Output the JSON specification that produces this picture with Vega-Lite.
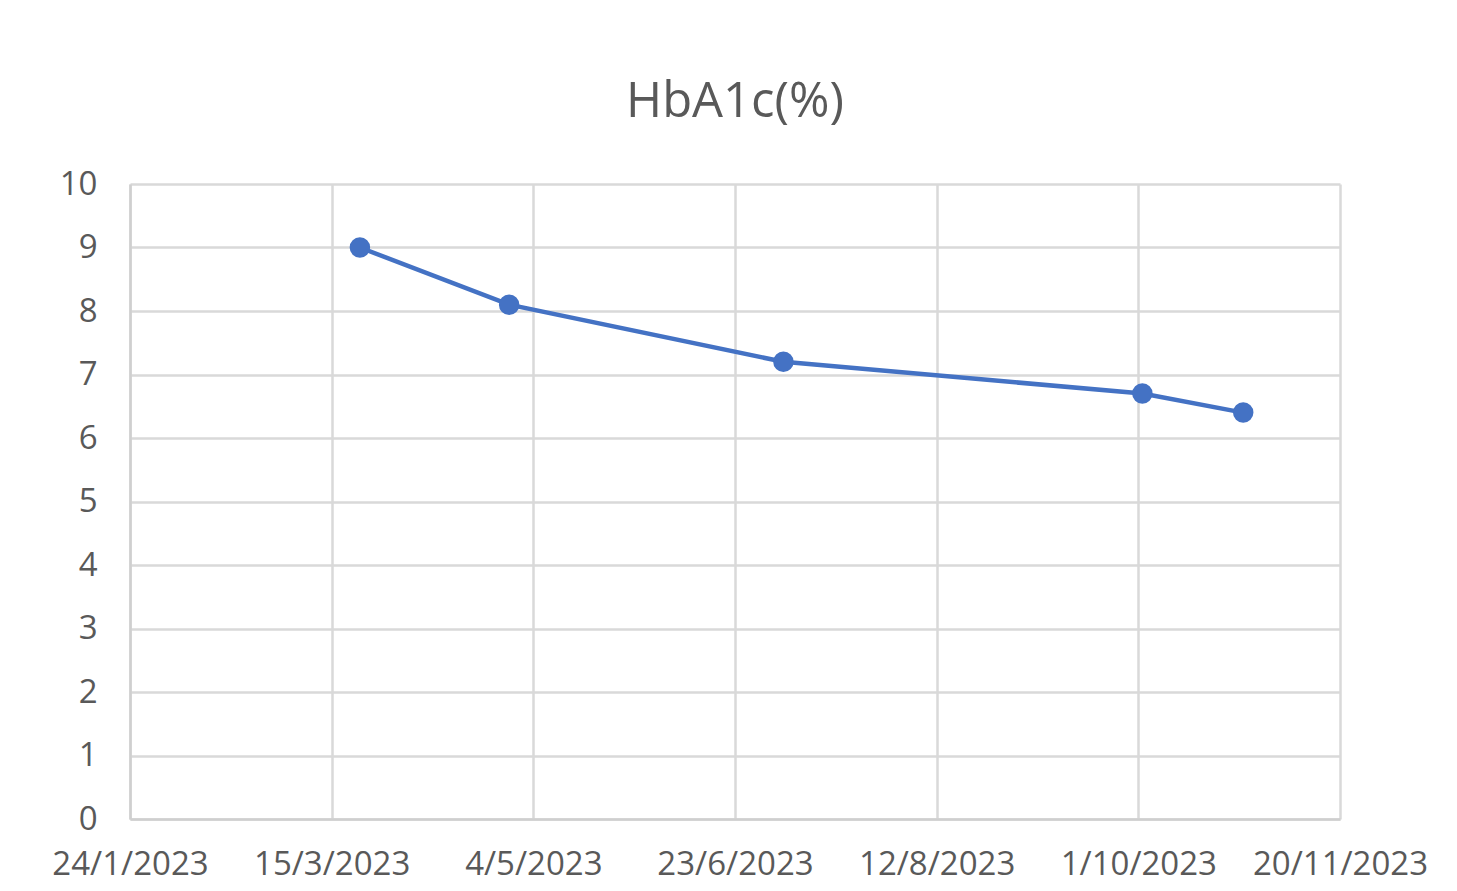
{
  "$schema": "https://vega.github.io/schema/vega-lite/v6.json",
  "autosize": "none",
  "width": 1210,
  "height": 635,
  "padding": {"left": 130, "top": 184, "right": 117, "bottom": 72},
  "background": "white",
  "title": {
    "text": "HbA1c(%)",
    "font": "Open Sans",
    "fontSize": 49,
    "fontWeight": "normal",
    "color": "#595959",
    "anchor": "middle",
    "frame": "group",
    "baseline": "alphabetic",
    "offset": 2
  },
  "config": {
    "view": {"stroke": null},
    "axis": {
      "labelFont": "Open Sans",
      "labelFontSize": 33,
      "labelColor": "#595959",
      "gridColor": "#d9d9d9",
      "gridWidth": 2.5,
      "domainColor": "#cfcfcf",
      "domainWidth": 2.5,
      "ticks": false,
      "tickSize": 0,
      "title": null
    }
  },
  "data": {
    "values": [
      {"date": "2023-03-22", "hba1c": 9.0},
      {"date": "2023-04-28", "hba1c": 8.1},
      {"date": "2023-07-05", "hba1c": 7.2},
      {"date": "2023-10-02", "hba1c": 6.7},
      {"date": "2023-10-27", "hba1c": 6.4}
    ]
  },
  "mark": {
    "type": "line",
    "color": "#4472C4",
    "strokeWidth": 4.5,
    "point": {"filled": true, "size": 420, "color": "#4472C4", "opacity": 1}
  },
  "encoding": {
    "x": {
      "field": "date",
      "type": "temporal",
      "scale": {"type": "utc", "domain": [1674518400000, 1700438400000], "nice": false},
      "axis": {
        "values": [1674518400000, 1678838400000, 1683158400000, 1687478400000, 1691798400000, 1696118400000, 1700438400000],
        "labelExpr": "utcFormat(datum.value, '%-d/%-m/%Y')",
        "labelFlush": false,
        "labelOverlap": false,
        "labelPadding": 29,
        "grid": true,
        "domain": true
      }
    },
    "y": {
      "field": "hba1c",
      "type": "quantitative",
      "scale": {"domain": [0, 10], "nice": false},
      "axis": {
        "values": [0, 1, 2, 3, 4, 5, 6, 7, 8, 9, 10],
        "labelPadding": 33,
        "grid": true,
        "domain": true
      }
    }
  }
}
